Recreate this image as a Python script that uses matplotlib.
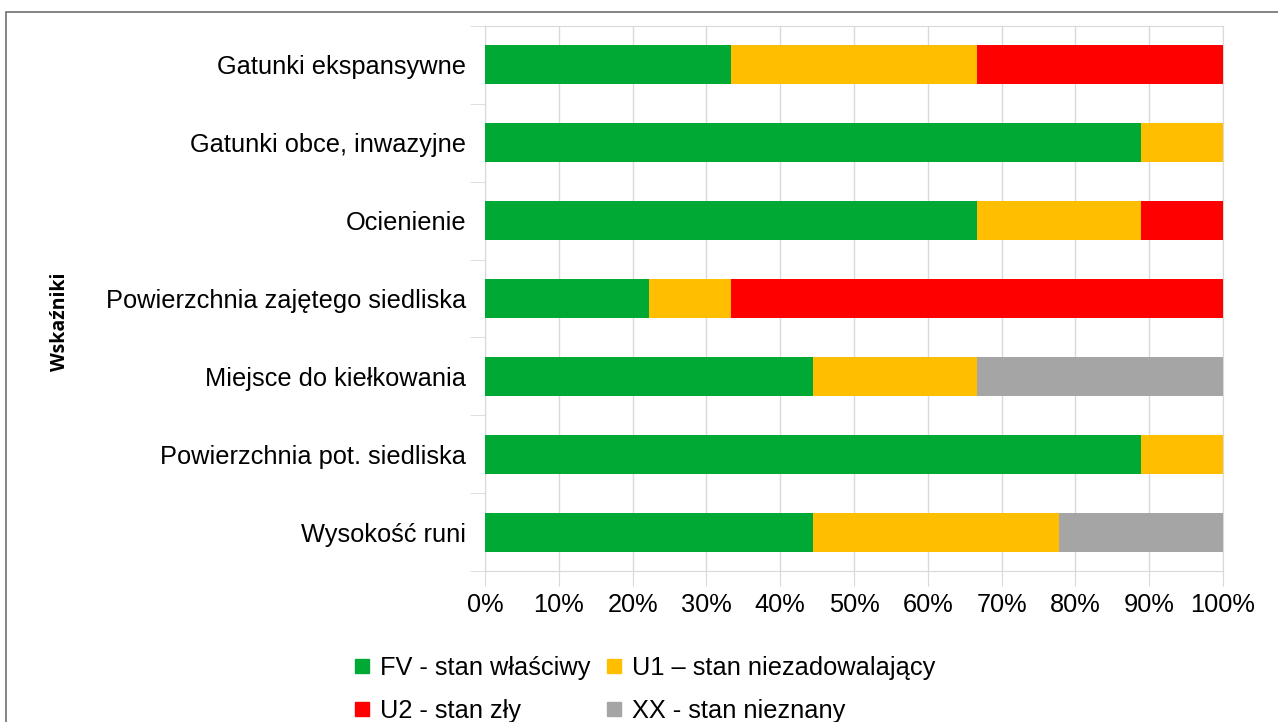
import numpy as np
import matplotlib.pyplot as plt
from matplotlib.patches import Rectangle
from matplotlib.lines import Line2D

categories = [
    "Gatunki ekspansywne",
    "Gatunki obce, inwazyjne",
    "Ocienienie",
    "Powierzchnia zajętego siedliska",
    "Miejsce do kiełkowania",
    "Powierzchnia pot. siedliska",
    "Wysokość runi",
]
# share of sites (out of 9) in each state
fv = [3, 8, 6, 2, 4, 8, 4]
u1 = [3, 1, 2, 1, 2, 1, 3]
u2 = [3, 0, 1, 6, 0, 0, 0]
xx = [0, 0, 0, 0, 3, 0, 2]

series_labels = ["FV - stan właściwy", "U1 – stan niezadowalający",
                 "U2 - stan zły", "XX - stan nieznany"]
colors = ["#00A933", "#FFBF00", "#FF0000", "#A5A5A5"]
x_ticks = [0, 10, 20, 30, 40, 50, 60, 70, 80, 90, 100]

plt.rcParams["font.family"] = ["Liberation Sans", "DejaVu Sans"]

W, H = 1278, 722
fig = plt.figure(figsize=(W / 100, H / 100), dpi=100)
ax = fig.add_axes([485 / W, 1 - 571 / H, (1223 - 485) / W, (571 - 26) / H])

data = np.array([fv, u1, u2, xx], dtype=float)
totals = data.sum(axis=0)
pct = data / totals * 100
y = np.arange(len(categories))

left = np.zeros(len(categories))
for vals, col in zip(pct, colors):
    ax.barh(y, vals, left=left, height=0.5, color=col, zorder=3)
    left += vals

grid_col = "#d9d9d9"
fs = 18.3
ax.set_xlim(0, 100)
ax.set_ylim(len(categories) - 0.5, -0.5)
ax.set_xticks(x_ticks)
ax.set_xticklabels([f"{t}%" for t in x_ticks], fontsize=fs)
ax.set_yticks(y)
ax.set_yticklabels(categories, fontsize=fs)
ax.set_yticks(np.arange(-0.5, len(categories) + 0.5, 1), minor=True)
ax.tick_params(axis="y", which="major", length=0, pad=13.5)
ax.tick_params(axis="y", which="minor", length=11, color=grid_col)
ax.tick_params(axis="x", length=11, color=grid_col, pad=5)
ax.grid(axis="x", color=grid_col, linewidth=1, zorder=0)
for s in ax.spines.values():
    s.set_color(grid_col)

fig.text(60 / W, 1 - 322 / H, "Wskaźniki", rotation=90, ha="center",
         va="center", fontsize=14, fontweight="bold",
         family=["Open Sans", "DejaVu Sans"])

handles = [Line2D([], [], marker="s", linestyle="", markersize=10,
                  color=c) for c in colors]
order = [0, 2, 1, 3]
fig.legend([handles[i] for i in order], [series_labels[i] for i in order],
           ncol=2, loc="upper left", bbox_to_anchor=(339 / W, 1 - 643 / H),
           frameon=False, fontsize=fs, handlelength=0.8, handletextpad=0.3,
           columnspacing=0.55, labelspacing=0.75, borderpad=0)

fig.add_artist(Rectangle((6 / W, -0.1), 1.2, 1 - 12 / H + 0.1,
                         transform=fig.transFigure, fill=False,
                         edgecolor="#707070", linewidth=1.2))

fig.savefig("out.png", dpi=100)
